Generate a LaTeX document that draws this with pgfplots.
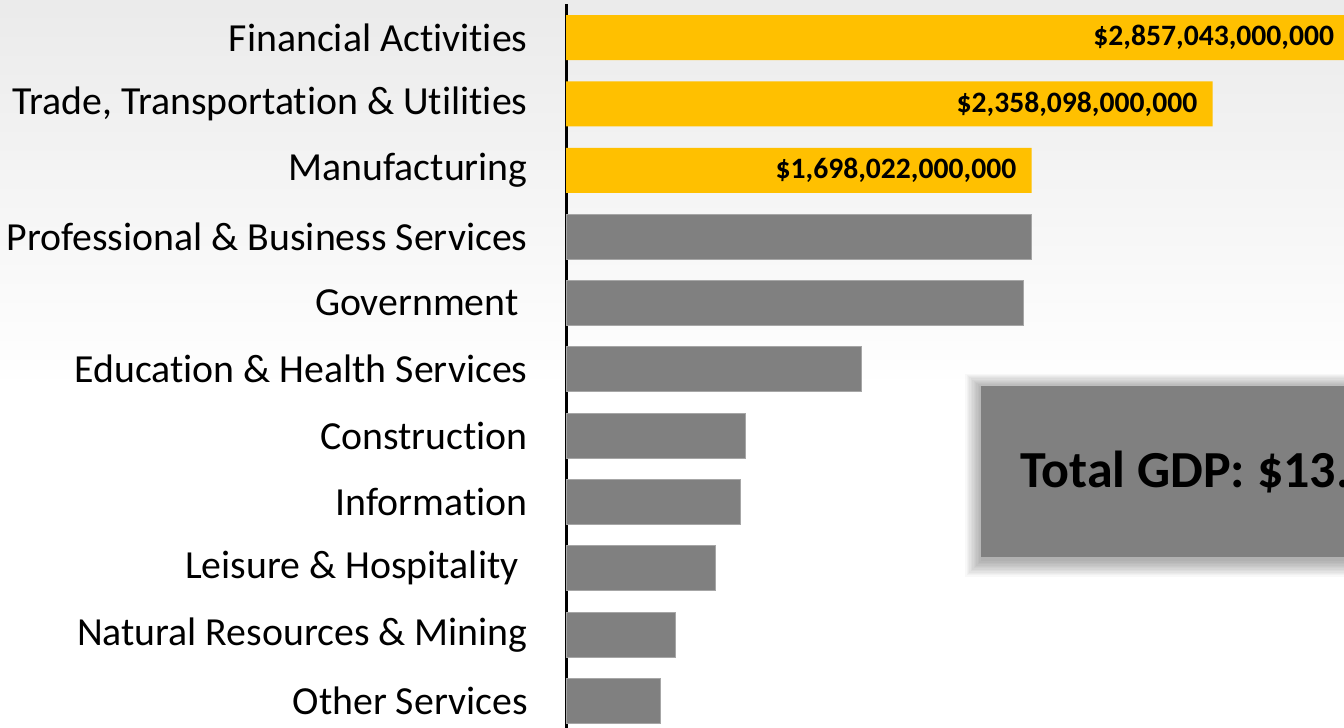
\documentclass[border=0pt]{standalone}
\usepackage{fontspec}
\setmainfont{Carlito}[Ligatures=NoCommon]
\usepackage{pgfplots}
\pgfplotsset{compat=1.18}
\definecolor{gold}{HTML}{FFC000}
\definecolor{bargray}{HTML}{808080}
\definecolor{baredge}{HTML}{A6A6A6}
\pgfplotstableread{
x y label
2.857043 10 {\$2,857,043,000,000}
2.358098 9 {\$2,358,098,000,000}
1.698022 8 {\$1,698,022,000,000}
}\goldtable
\pgfplotstableread{
x y
1.696 7
1.667 6
1.076 5
0.653 4
0.635 3
0.547 2
0.398 1
0.343 0
}\graytable
\begin{document}
\begin{tikzpicture}[x=1pt,y=1pt]
\useasboundingbox (0,0) rectangle (672,364);
\clip (0,0) rectangle (672,364);
\fill[white] (0,0) rectangle (672,364);
\shade[top color=black!8, bottom color=white] (0,170) rectangle (672,364);
\begin{axis}[
  at={(283pt,-3.1pt)}, anchor=south west,
  scale only axis, width=397.6pt, height=364.9pt,
  xmin=0, xmax=2.9, ymin=-0.5, ymax=10.5,
  clip=false,
  axis x line=none, axis y line*=left,
  y axis line style={black, line width=1.5pt},
  xbar, bar width=22.5pt, bar shift=0pt,
  ytick={0,...,10},
  yticklabels={Other Services, Natural Resources \& Mining, Leisure \& Hospitality\kern4.5pt, Information, Construction, Education \& Health Services, Government\kern4.5pt, Professional \& Business Services, Manufacturing, {Trade, Transportation \& Utilities}, Financial Activities},
  major tick length=0pt,
  yticklabel style={font=\fontsize{19.9}{23}\selectfont, inner sep=0pt, xshift=-19pt},
]
\addplot[fill=gold, draw=none, nodes near coords, point meta=explicit symbolic,
  every node near coord/.append style={anchor=east, inner sep=0pt, xshift=-7.5pt, font=\bfseries\fontsize{14.8}{17}\selectfont, text=black}]
  table[x=x, y=y, meta=label] {\goldtable};
\addplot[fill=bargray, draw=baredge, line width=0.5pt] table[x=x, y=y] {\graytable};
\end{axis}
% Total GDP box with soft shadow
\foreach \i in {1,...,12} {
  \fill[black, opacity=0.028] ({490.5-\i*0.7+0.5}, {85.5-\i*0.7-1.5}) rectangle (800, {171+\i*0.6-1});
}
\fill[bargray] (490.5,85.5) rectangle (800,171);
\node[anchor=base west, inner sep=0pt, font=\bfseries\fontsize{26}{30}\selectfont] at (510,120) {Total GDP: \$13.9 Trillion};
\end{tikzpicture}
\end{document}
